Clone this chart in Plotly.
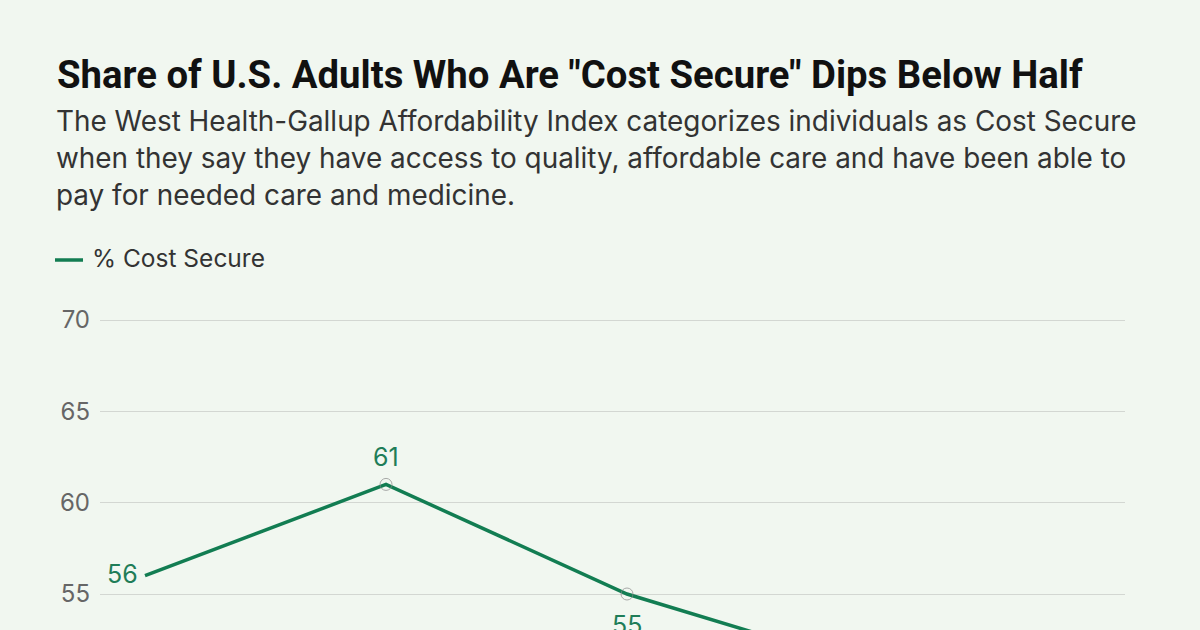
import plotly.graph_objects as go

# ---- data ----
periods = ["2021", "2022", "2023", "2024", "2025"]
cost_secure = [56, 61, 55, 51, 48]
marker_sizes = [0, 12, 12, 12, 12]
y_ticks = [55, 60, 65, 70]

title_text = 'Share of U.S. Adults Who Are "Cost Secure" Dips Below Half'
subtitle_lines = [
    "The West Health-Gallup Affordability Index categorizes individuals as Cost Secure",
    "when they say they have access to quality, affordable care and have been able to",
    "pay for needed care and medicine.",
]
legend_label = "% Cost Secure"

# ---- style ----
W, H = 1200, 630
ML, MR, MT, MB = 100, 75, 300, 0
BG = "#f1f7f0"
GREEN = "#127d52"
LABEL_GREEN = "#1f7d58"
FONT = "Inter, Roboto, Arial, sans-serif"

PW = W - ML - MR
PH = H - MT - MB


def px_x(x):
    return (x - ML) / PW


def px_y(y):
    return (H - MB - y) / PH


xs = list(range(len(periods)))

fig = go.Figure()
fig.add_trace(go.Scatter(
    x=xs,
    y=cost_secure,
    mode="lines+markers",
    line=dict(color=GREEN, width=3.5),
    marker=dict(size=marker_sizes, color="rgba(0,0,0,0)",
                line=dict(color="#8a8a8a", width=1)),
    showlegend=False,
    hoverinfo="skip",
))

annotations = [
    dict(text=f"<b>{title_text}</b>", x=px_x(55), y=px_y(75), xref="paper", yref="paper",
         xanchor="left", yanchor="middle", showarrow=False,
         font=dict(family="Roboto, Arial, sans-serif", size=38.3, color="#111111")),
]
for i, line in enumerate(subtitle_lines):
    annotations.append(dict(
        text=line, x=px_x(54), y=px_y(121 + 37 * i), xref="paper", yref="paper",
        xanchor="left", yanchor="middle", showarrow=False,
        font=dict(family=FONT, size=27.9, color="#333333")))
annotations.append(dict(
    text=legend_label, x=px_x(90), y=px_y(258), xref="paper", yref="paper",
    xanchor="left", yanchor="middle", showarrow=False,
    font=dict(family=FONT, size=24.5, color="#333333")))

# data labels (placed via the data axes)
for i, (x, v) in enumerate(zip(xs, cost_secure)):
    if i == 0:
        annotations.append(dict(x=x, y=v, xref="x", yref="y", text=str(v), showarrow=False,
                                xanchor="right", yanchor="middle", xshift=-5, yshift=2,
                                font=dict(family=FONT, size=25, color=LABEL_GREEN)))
    elif v >= cost_secure[i - 1]:
        annotations.append(dict(x=x, y=v, xref="x", yref="y", text=str(v), showarrow=False,
                                xanchor="center", yanchor="middle", yshift=27,
                                font=dict(family=FONT, size=25, color=LABEL_GREEN)))
    else:
        annotations.append(dict(x=x, y=v, xref="x", yref="y", text=str(v), showarrow=False,
                                xanchor="center", yanchor="middle", yshift=-31,
                                font=dict(family=FONT, size=25, color=LABEL_GREEN)))

shapes = [dict(type="line", xref="paper", yref="paper",
               x0=px_x(55), x1=px_x(83), y0=px_y(260), y1=px_y(260),
               line=dict(color=GREEN, width=3.5))]

# x scale: first point at 145px, spacing ~241px
step = 241.0
x0 = (ML - 145) / step
x1 = x0 + PW / step
# y scale: 70 at 320px, 55 at 594px
ppu = (594 - 320) / 15.0
y_top = 70 + (320 - MT) / ppu
y_bot = 55 - (H - MB - 594) / ppu

fig.update_layout(
    width=W, height=H,
    margin=dict(l=ML, r=MR, t=MT, b=MB),
    paper_bgcolor=BG, plot_bgcolor=BG,
    xaxis=dict(range=[x0, x1], showgrid=False, zeroline=False, showticklabels=False,
               showline=False, fixedrange=True),
    yaxis=dict(range=[y_bot, y_top], tickvals=y_ticks, showgrid=True, gridcolor="#d3d7d2",
               gridwidth=1, zeroline=False, showline=False,
               tickfont=dict(family=FONT, size=24, color="#666666"),
               ticklabelstandoff=9, fixedrange=True),
    annotations=annotations,
    shapes=shapes,
)

fig.write_html("out.html")
